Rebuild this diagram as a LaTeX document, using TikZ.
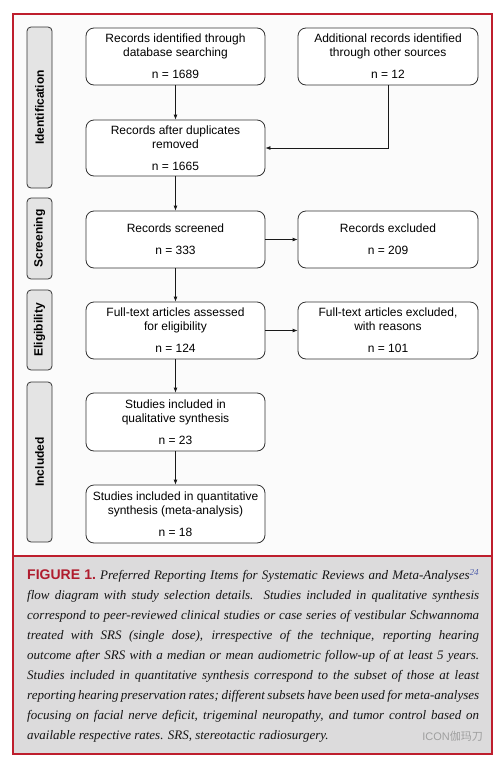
\documentclass[tikz,border=0pt]{standalone}
\usepackage{fontspec}
\setmainfont{Liberation Serif}
\setsansfont{Liberation Sans}
\newfontfamily\cjkfont{Noto Sans CJK SC}
\usetikzlibrary{arrows.meta}
\definecolor{framered}{HTML}{BE1E2D}
\definecolor{figred}{HTML}{B01C2E}
\definecolor{capbg}{HTML}{DCDBDC}
\definecolor{diagbg}{HTML}{FBFBFB}
\definecolor{phasefill}{HTML}{E4E4E4}
\definecolor{boxline}{HTML}{333333}
\definecolor{captext}{HTML}{141414}
\definecolor{supblue}{HTML}{4B5BAA}
\newcommand{\capln}[1]{\hbox to 452pt{#1}}
\begin{document}
\begin{tikzpicture}[x=1pt,y=-1pt,
  box/.style={draw=boxline, line width=0.8pt, rounded corners=8pt, fill=white,
    align=center, inner sep=0pt, minimum width=179pt, minimum height=57pt,
    font=\sffamily\fontsize{12}{14}\selectfont, text=black},
  phase/.style={draw=boxline, line width=0.8pt, rounded corners=4pt, fill=phasefill,
    rotate=90, inner sep=0pt, minimum height=25pt,
    font=\sffamily\bfseries\fontsize{12}{14}\selectfont},
  arr/.style={draw=black!90, line width=0.8pt, -{Latex[length=5pt,width=4pt]}}
]
\useasboundingbox (0,0) rectangle (499,758);
\fill[white] (0,0) rectangle (499,758);
\fill[diagbg] (13,14) rectangle (492,556);
\fill[capbg] (13,556) rectangle (492,754);
\draw[framered, line width=1.6pt] (13,14) rectangle (492,754);
\draw[framered, line width=1.6pt] (13,556) -- (492,556);

% phase labels
\node[phase, minimum width=161pt] (pid) at (39.5,107.5) {Identification};
\node[phase, minimum width=81pt] (pscr) at (39.5,238.5) {Screening};
\node[phase, minimum width=80pt] (pel) at (39.5,330) {Eligibility};
\node[phase, minimum width=160pt] (pinc) at (39.5,462) {Included};

% boxes
\node[box] (b1) at (175.5,56.5) {Records identified through\\database searching\\[8pt]n = 1689};
\node[box, minimum width=180pt] (b2) at (388,56.5) {Additional records identified\\through other sources\\[8pt]n = 12};
\node[box, minimum height=56pt] (b3) at (175.5,148) {Records after duplicates\\removed\\[8pt]n = 1665};
\node[box] (b4) at (175.5,239.5) {Records screened\\[8pt]n = 333};
\node[box, minimum width=180pt] (b5) at (388,239.5) {Records excluded\\[8pt]n = 209};
\node[box] (b6) at (175.5,330.5) {Full-text articles assessed\\for eligibility\\[8pt]n = 124};
\node[box, minimum width=180pt] (b7) at (388,330.5) {Full-text articles excluded,\\with reasons\\[8pt]n = 101};
\node[box, minimum height=58pt] (b8) at (175.5,422) {Studies included in\\qualitative synthesis\\[8pt]n = 23};
\node[box, minimum height=58pt] (b9) at (175.5,514) {Studies included in quantitative\\synthesis (meta-analysis)\\[8pt]n = 18};

% connectors
\draw[arr] (b1) -- (b3);
\draw[arr] (b2.south) |- (b3.east);
\draw[arr] (b3) -- (b4);
\draw[arr] (b4) -- (b5);
\draw[arr] (b4) -- (b6);
\draw[arr] (b6) -- (b7);
\draw[arr] (b6) -- (b8);
\draw[arr] (b8) -- (b9);

% caption
\node[anchor=north west, inner sep=0pt, text=captext] (cap) at (27,569)
{\begin{minipage}[t]{452pt}\fontsize{13}{20}\selectfont\itshape
\spaceskip=0.25em plus 0.4em minus 0.12em\relax
\capln{{\upshape\sffamily\bfseries\fontsize{14}{20}\selectfont\color{figred}FIGURE 1.}\ Preferred Reporting Items for Systematic Reviews and Meta-Analyses\textsuperscript{\color{supblue}24}}
\capln{flow diagram with study selection details. Studies included in qualitative synthesis}
\capln{correspond to peer-reviewed clinical studies or case series of vestibular Schwannoma}
\capln{treated with SRS (single dose), irrespective of the technique, reporting hearing}
\capln{outcome after SRS with a median or mean audiometric follow-up of at least 5 years.}
\capln{Studies included in quantitative synthesis correspond to the subset of those at least}
\capln{reporting hearing preservation rates; different subsets have been used for meta-analyses}
\capln{focusing on facial nerve deficit, trigeminal neuropathy, and tumor control based on}
\hbox{available respective rates. SRS, stereotactic radiosurgery.}
\end{minipage}};

% watermark
\node[anchor=east, inner sep=0pt, text=gray!75, font=\sffamily\fontsize{11}{13}\selectfont] (wm) at (483,736) {ICON{\cjkfont 伽玛刀}};
\end{tikzpicture}
\end{document}
